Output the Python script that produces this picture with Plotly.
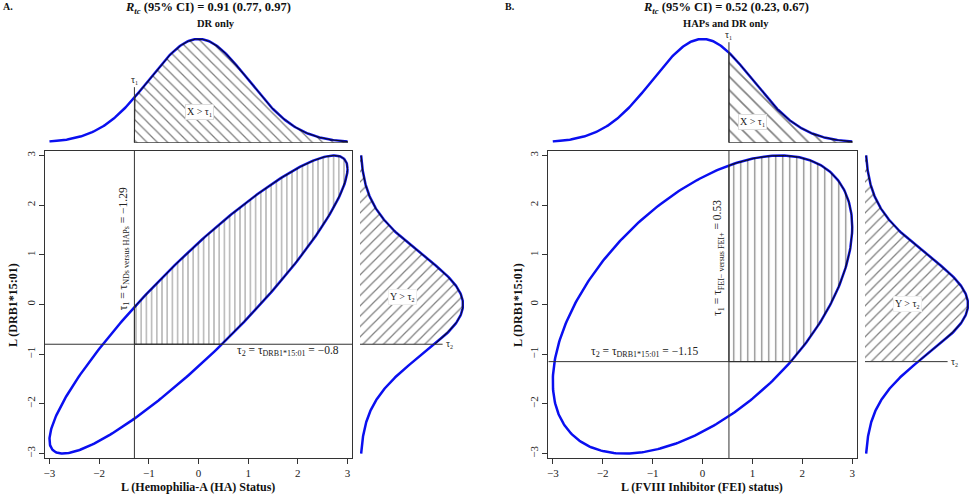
import numpy as np
import plotly.graph_objects as go

# ---- values ----
panel_tags = ["A.", "B."]
r_tc = ["0.91 (0.77, 0.97)", "0.52 (0.23, 0.67)"]
subtitles = ["DR only", "HAPs and DR only"]
rho = [0.91, 0.52]
tau1 = [-1.29, 0.53]
tau2 = [-0.8, -1.15]
tau1_sub = ["NDs versus HAPs", "FEI\u2212 versus FEI+"]
tau2_sub = "DRB1*15:01"
x_titles = ["L (Hemophilia-A (HA) Status)", "L (FVIII Inhibitor (FEI) status)"]
y_title = "L (DRB1*15:01)"
tick_vals = [-3, -2, -1, 0, 1, 2, 3]
z_lim = 3.0

W, H = 969, 494
FONT = "Liberation Serif"
BLUE = "#0a0ff0"
INK = "#000"


def px(x):
    return x / W


def py(y):
    return 1 - y / H


def dnorm(z):
    return np.exp(-z * z / 2) / np.sqrt(2 * np.pi)


def clip_half(pts, axis, t):
    # keep the part of a polygon where pts[axis] >= t
    out = []
    n = len(pts)
    for i in range(n):
        p, q = pts[i], pts[(i + 1) % n]
        p_in, q_in = p[axis] >= t, q[axis] >= t
        if p_in:
            out.append(p)
        if p_in != q_in:
            s = (t - p[axis]) / (q[axis] - p[axis])
            out.append((p[0] + s * (q[0] - p[0]), p[1] + s * (q[1] - p[1])))
    return out


def minus(s):
    return s.replace("-", "\u2212")


def tiny(s, size=6):
    return f'<sub><span style="font-size:{size}px">{s}</span></sub>'


# pixel geometry of the two panels
geo = [
    dict(left=45, right=352, rbase=360, title_x=208, sub_x=216, tag_x=8, ylab_x=13,
         xlab_x=198, xpat=5.2, tpat=7.3, rpat=7.3,
         xlab=(0.03, 0.118), ylab=(0.163, 0.155), t2lab=(1.8, -0.93), t1y=1.12),
    dict(left=548.3, right=856.7, rbase=865, title_x=726, sub_x=726, tag_x=510, ylab_x=518,
         xlab_x=702, xpat=7, tpat=9.5, rpat=7.3,
         xlab=(1.0, 0.08), ylab=(0.164, 0.014), t2lab=(-1.16, -0.93), t1y=0.94),
]
top_px, bot_px = 151, 458
rng = [-3.09, 3.09]
top_rng = [0, 0.4335]
right_rng = [0, 0.4028]

fig = go.Figure()
layout = {}
annotations = []
zz = np.linspace(-z_lim, z_lim, 301)
dens = dnorm(zz)
hatch = dict(solidity=0.17, fgcolor=INK, bgcolor="rgba(0,0,0,0)")


def line(x, y, xa, ya, color="#333", width=1):
    fig.add_trace(go.Scatter(x=x, y=y, mode="lines", line=dict(color=color, width=width),
                             xaxis=xa, yaxis=ya, hoverinfo="skip"))


for i in range(2):
    g = geo[i]
    n = 3 * i
    xa, ya = f"x{n + 1 if n else ''}", f"y{n + 1 if n else ''}"
    xt, yt = f"x{n + 2}", f"y{n + 2}"
    xr, yr = f"x{n + 3}", f"y{n + 3}"
    t1, t2, r = tau1[i], tau2[i], rho[i]

    # --- main panel: 3-sd contour of the bivariate normal ---
    th = np.linspace(0, 2 * np.pi, 400)
    ex = z_lim * np.cos(th)
    ey = z_lim * np.cos(th - np.arccos(r))
    line(ex, ey, xa, ya, BLUE, 2.5)
    poly = list(zip(ex[:-1], ey[:-1]))
    poly = clip_half(clip_half(poly, 0, t1), 1, t2)
    poly.append(poly[0])
    fig.add_trace(go.Scatter(x=[p[0] for p in poly], y=[p[1] for p in poly], mode="lines",
                             fill="toself", fillcolor="rgba(0,0,0,0)",
                             fillpattern=dict(shape="|", size=g["xpat"], **hatch),
                             line=dict(color="#111", width=1), xaxis=xa, yaxis=ya,
                             hoverinfo="skip"))
    line([t1, t1], rng, xa, ya)
    line(rng, [t2, t2], xa, ya)

    # --- top marginal ---
    line(zz, dens, xt, yt, BLUE, 2.5)
    m = zz >= t1
    hx = np.concatenate([[t1], [t1], zz[m], [z_lim], [t1]])
    hy = np.concatenate([[0], [dnorm(t1)], dens[m], [0], [0]])
    fig.add_trace(go.Scatter(x=hx, y=hy, mode="lines", fill="toself", fillcolor="rgba(0,0,0,0)",
                             fillpattern=dict(shape="\\", size=g["tpat"], **hatch),
                             line=dict(color="#111", width=1), xaxis=xt, yaxis=yt,
                             hoverinfo="skip"))
    line([t1, t1], [0, dnorm(t1) + 0.04], xt, yt)

    # --- right marginal ---
    line(dens, zz, xr, yr, BLUE, 2.5)
    m = zz >= t2
    rx = np.concatenate([[0], [dnorm(t2)], dens[m], [0], [0]])
    ry = np.concatenate([[t2], [t2], zz[m], [z_lim], [t2]])
    fig.add_trace(go.Scatter(x=rx, y=ry, mode="lines", fill="toself", fillcolor="rgba(0,0,0,0)",
                             fillpattern=dict(shape="/", size=g["rpat"], **hatch),
                             line=dict(color="rgba(0,0,0,0)", width=0), xaxis=xr, yaxis=yr,
                             hoverinfo="skip"))
    line(np.concatenate([[dnorm(t2)], dens[m]]), np.concatenate([[t2], zz[m]]), xr, yr, "#111", 1)
    line([0, 0.32], [t2, t2], xr, yr)

    # --- axes ---
    kx = xa.replace("x", "xaxis")
    ky = ya.replace("y", "yaxis")
    dom_x = [px(g["left"]), px(g["right"])]
    dom_y = [py(bot_px), py(top_px)]
    common = dict(range=rng, tickvals=tick_vals, ticks="outside", ticklen=5, tickwidth=1,
                  tickcolor="#333", showline=True, linecolor="#333", linewidth=1, mirror=True,
                  showgrid=False, zeroline=False,
                  tickfont=dict(family=FONT, size=11, color="#222"))
    layout[kx] = dict(domain=dom_x, anchor=ya, **common)
    layout[ky] = dict(domain=dom_y, anchor=xa, tickangle=-90, **common)
    hidden = dict(visible=False, showgrid=False, zeroline=False)
    layout[f"xaxis{n + 2}"] = dict(domain=dom_x, range=rng, anchor=yt, **hidden)
    layout[f"yaxis{n + 2}"] = dict(domain=[py(142.7), py(30)], range=top_rng, anchor=xt, **hidden)
    layout[f"xaxis{n + 3}"] = dict(domain=[px(g["rbase"]), px(g["rbase"] + 104)], range=right_rng,
                                   anchor=yr, **hidden)
    layout[f"yaxis{n + 3}"] = dict(domain=dom_y, range=rng, anchor=xr, **hidden)

    # --- text ---
    small = dict(family=FONT, size=11.5, color="#222")
    ctr = dict(xref="paper", yref="paper", showarrow=False, xanchor="center", yanchor="middle")
    annotations += [
        dict(text=f"<b>{panel_tags[i]}</b>", x=px(g["tag_x"]), y=py(6),
             font=dict(family=FONT, size=10, color="#111"), **ctr),
        dict(text=f"<b><i>R</i><sub><i>tc</i></sub> (95% CI) = {r_tc[i]}</b>",
             x=px(g["title_x"]), y=py(8), font=dict(family=FONT, size=12.5, color="#111"), **ctr),
        dict(text=f"<b>{subtitles[i]}</b>", x=px(g["sub_x"]), y=py(23),
             font=dict(family=FONT, size=10.5, color="#111"), **ctr),
        dict(text=f"<b>{x_titles[i]}</b>", x=px(g["xlab_x"]), y=py(487),
             font=dict(family=FONT, size=12, color="#111"), **ctr),
        dict(text=f"<b>{y_title}</b>", x=px(g["ylab_x"]), y=py(305), textangle=-90,
             font=dict(family=FONT, size=12, color="#111"), **ctr),
        dict(text=minus(f"\u03c4{tiny('1')} = \u03c4{tiny(tau1_sub[i], 5.5)} = {t1:.2f}"),
             x=t1, y=g["t1y"], xref=xa, yref=ya, xshift=-11, showarrow=False,
             textangle=-90, font=small),
        dict(text=minus(f"\u03c4{tiny('2')} = \u03c4{tiny(tau2_sub, 5.5)} = {t2:g}"),
             x=g["t2lab"][0], y=t2, yshift=-7 if i == 0 else 10, xref=xa, yref=ya,
             showarrow=False, font=small),
        dict(text=f"X > \u03c4{tiny('1', 6)}", x=g["xlab"][0], y=g["xlab"][1], xref=xt, yref=yt,
             showarrow=False, bgcolor="white", bordercolor="#ddd", borderwidth=1, borderpad=1,
             font=dict(family=FONT, size=10, color="#222")),
        dict(text=f"Y > \u03c4{tiny('2', 6)}", x=g["ylab"][0], y=g["ylab"][1], xref=xr, yref=yr,
             showarrow=False, bgcolor="white", bordercolor="#eee", borderwidth=1, borderpad=1,
             font=dict(family=FONT, size=10, color="#222")),
        dict(text=f"\u03c4{tiny('1', 6)}", x=t1, y=dnorm(t1) + 0.04, yshift=7, xref=xt, yref=yt,
             showarrow=False, font=dict(family=FONT, size=10, color="#222")),
        dict(text=f"\u03c4{tiny('2', 6)}", x=0.32, y=t2, xshift=7, xref=xr, yref=yr,
             showarrow=False, font=dict(family=FONT, size=10, color="#222")),
    ]

fig.update_layout(width=W, height=H, margin=dict(l=0, r=0, t=0, b=0), showlegend=False,
                  plot_bgcolor="white", paper_bgcolor="white", annotations=annotations, **layout)
# the page body has a default 8px margin; drop it so the figure fills the window
fig.write_html("out.html", config={"displayModeBar": False},
               post_script="document.body.style.margin='0';")
